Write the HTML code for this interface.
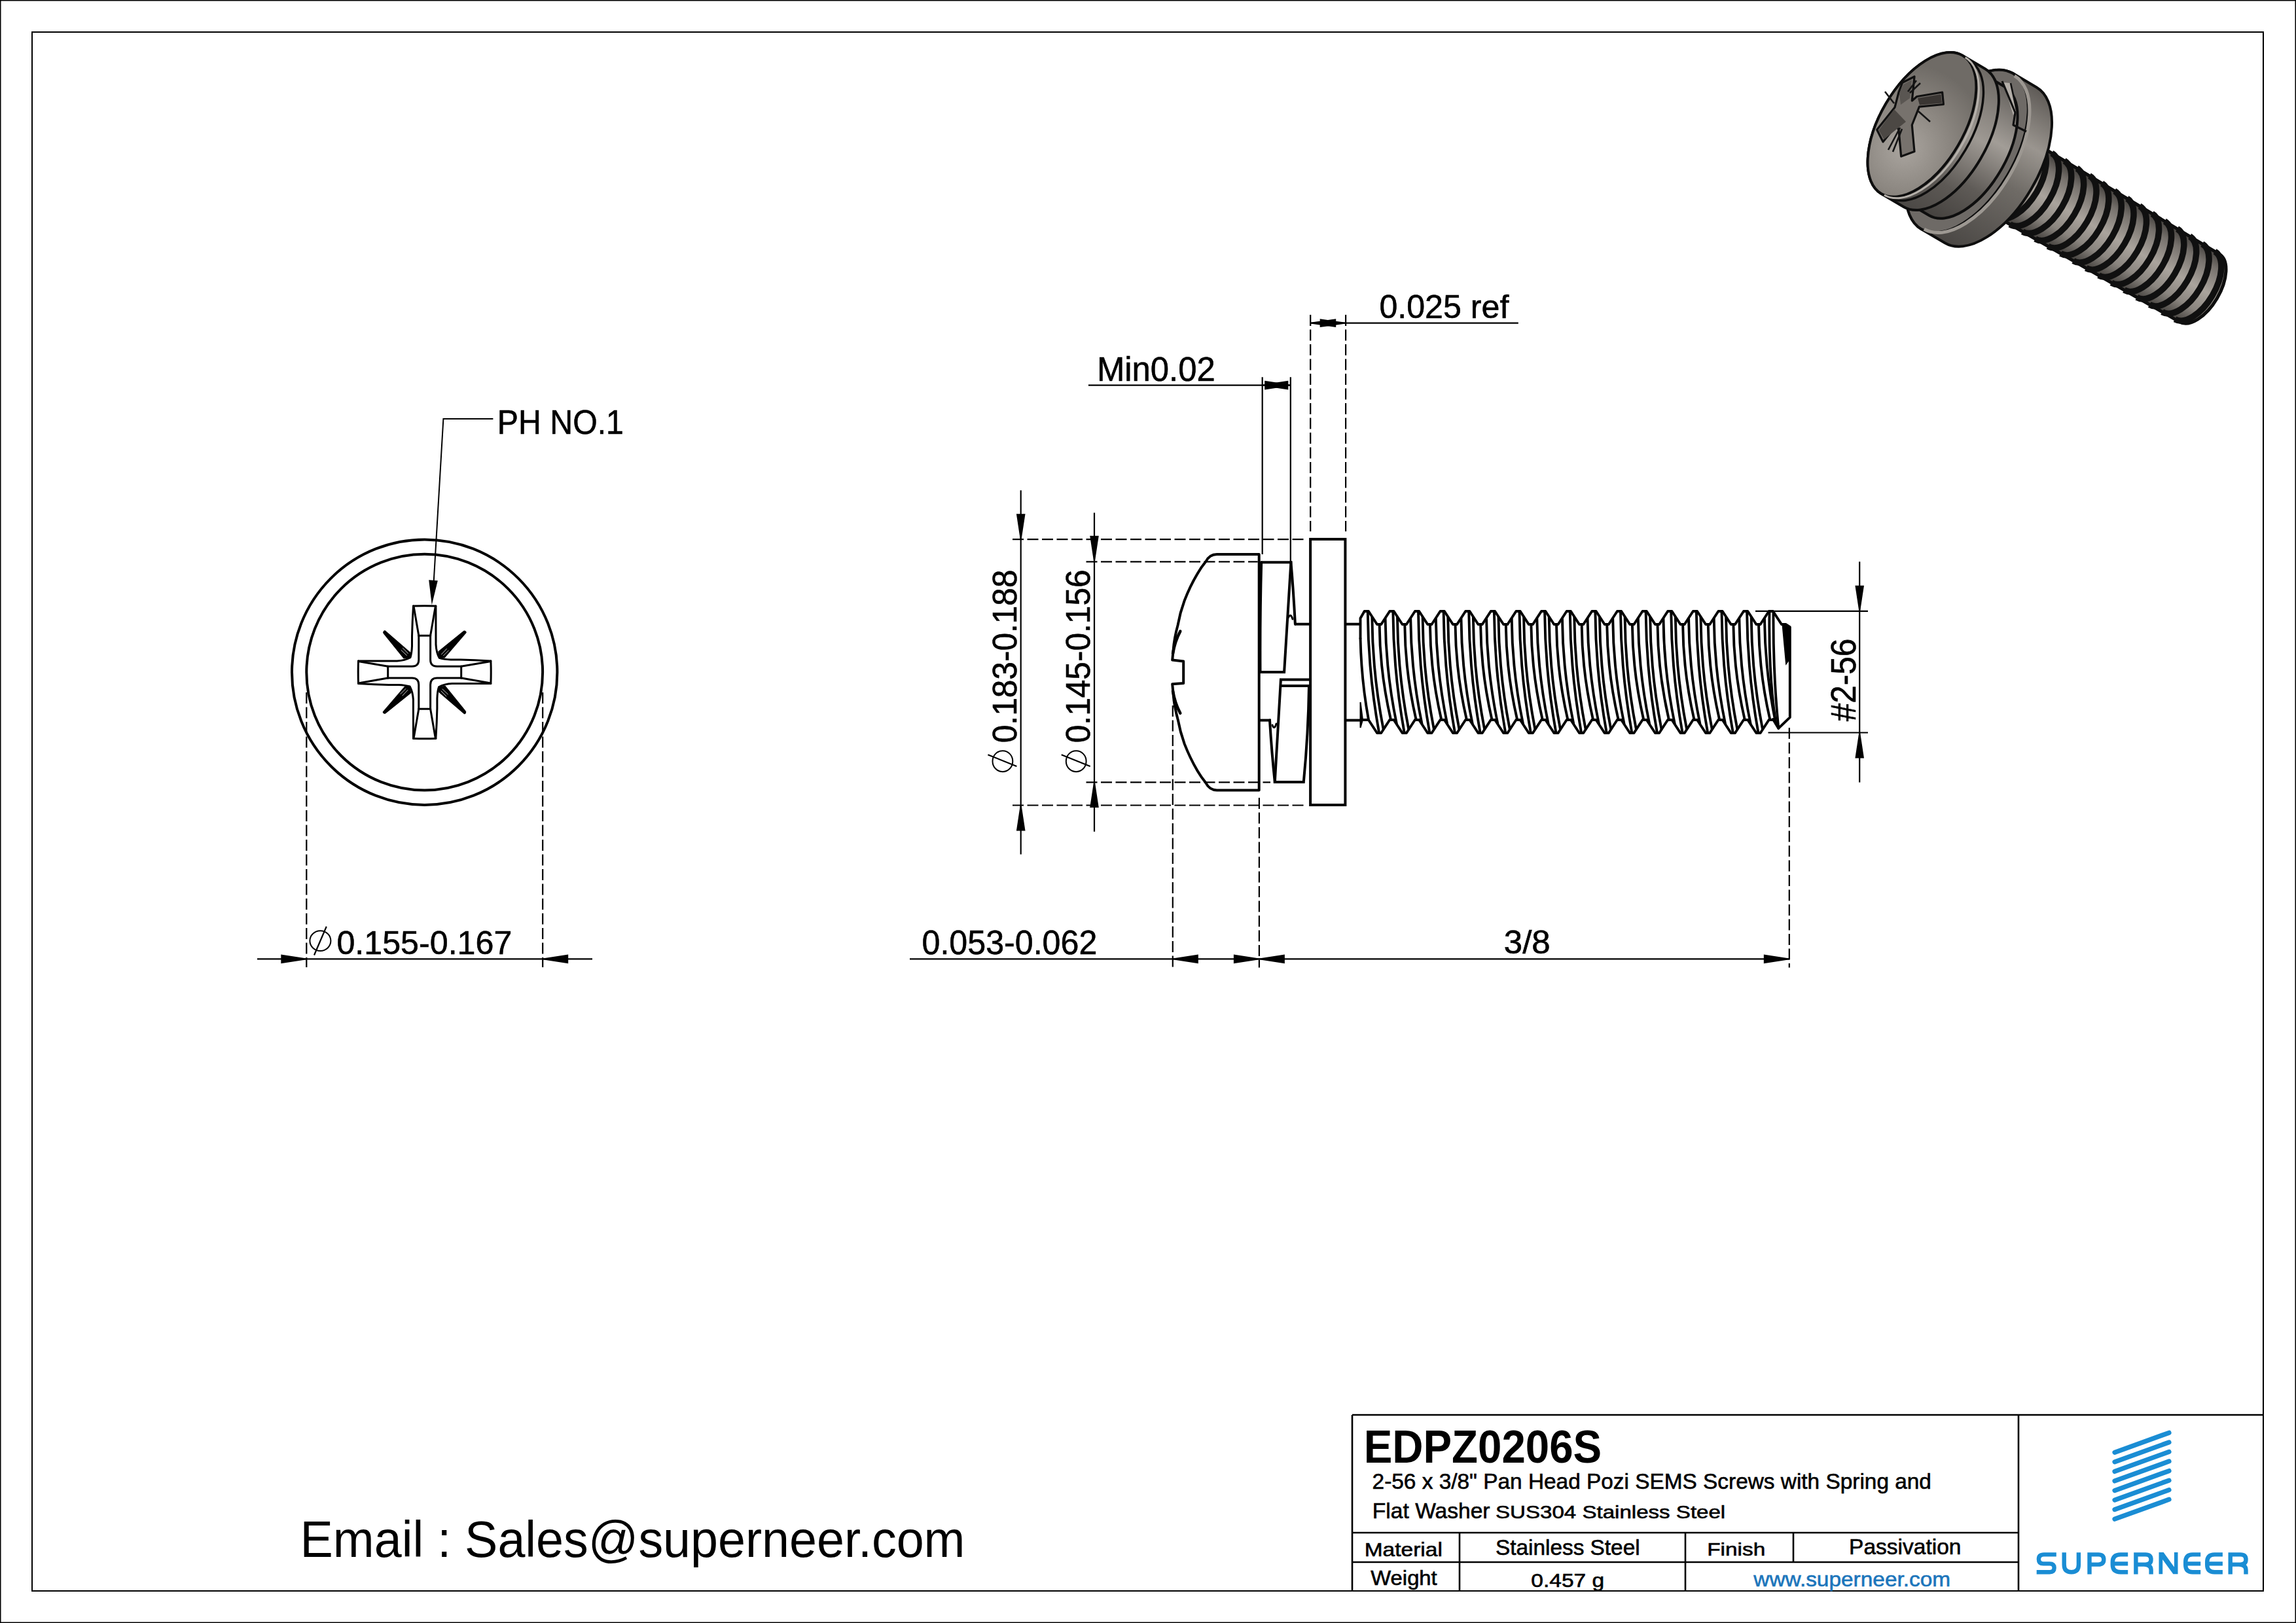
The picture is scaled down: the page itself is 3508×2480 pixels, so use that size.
<!DOCTYPE html>
<html><head><meta charset="utf-8"><title>EDPZ0206S drawing</title>
<style>
html,body{margin:0;padding:0;background:#fff;}
svg{display:block;}
text{font-family:"Liberation Sans", sans-serif;}
</style></head>
<body>
<svg width="3508" height="2480" viewBox="0 0 3508 2480">
<rect x="0" y="0" width="3508" height="2480" fill="#fff"/>
<rect x="0.75" y="0.75" width="3506.5" height="2478.5" fill="none" stroke="#000" stroke-width="1.5"/>
<rect x="49" y="49" width="3409" height="2382" fill="none" stroke="#000" stroke-width="2"/>
<line x1="2066.00" y1="2162.00" x2="3458.00" y2="2162.00" stroke="#000" stroke-width="2.6" />
<line x1="2066.00" y1="2162.00" x2="2066.00" y2="2432.00" stroke="#000" stroke-width="2.6" />
<line x1="2066.00" y1="2342.00" x2="3084.00" y2="2342.00" stroke="#000" stroke-width="2.6" />
<line x1="2066.00" y1="2387.00" x2="3084.00" y2="2387.00" stroke="#000" stroke-width="2.6" />
<line x1="3084.00" y1="2162.00" x2="3084.00" y2="2432.00" stroke="#000" stroke-width="2.6" />
<line x1="2230.00" y1="2342.00" x2="2230.00" y2="2432.00" stroke="#000" stroke-width="2.6" />
<line x1="2575.00" y1="2342.00" x2="2575.00" y2="2432.00" stroke="#000" stroke-width="2.6" />
<line x1="2740.00" y1="2342.00" x2="2740.00" y2="2387.00" stroke="#000" stroke-width="2.6" />
<text x="2083.63" y="2235.40" font-size="70.50" font-weight="bold" fill="#000" textLength="363.53" lengthAdjust="spacingAndGlyphs" xml:space="preserve">EDPZ0206S</text>
<text x="2096.62" y="2275.00" font-size="33.14" font-weight="normal" fill="#000" stroke="#000" stroke-width="0.6" textLength="854.33" lengthAdjust="spacingAndGlyphs" xml:space="preserve">2-56 x 3/8&quot; Pan Head Pozi SEMS Screws with Spring and</text>
<text x="2096.87" y="2320.00" font-size="34.01" font-weight="normal" fill="#000" stroke="#000" stroke-width="0.6" textLength="179.69" lengthAdjust="spacingAndGlyphs" xml:space="preserve">Flat Washer</text>
<text x="2285.00" y="2320.00" font-size="27.62" font-weight="normal" fill="#000" stroke="#000" stroke-width="0.6" textLength="351.22" lengthAdjust="spacingAndGlyphs" xml:space="preserve">SUS304 Stainless Steel</text>
<text x="2084.65" y="2377.60" font-size="29.51" font-weight="normal" fill="#000" stroke="#000" stroke-width="0.6" textLength="119.19" lengthAdjust="spacingAndGlyphs" xml:space="preserve">Material</text>
<text x="2284.99" y="2375.50" font-size="32.51" font-weight="normal" fill="#000" stroke="#000" stroke-width="0.6" textLength="220.65" lengthAdjust="spacingAndGlyphs" xml:space="preserve">Stainless Steel</text>
<text x="2608.27" y="2376.60" font-size="28.49" font-weight="normal" fill="#000" stroke="#000" stroke-width="0.6" textLength="88.90" lengthAdjust="spacingAndGlyphs" xml:space="preserve">Finish</text>
<text x="2825.05" y="2375.40" font-size="33.14" font-weight="normal" fill="#000" stroke="#000" stroke-width="0.6" textLength="171.43" lengthAdjust="spacingAndGlyphs" xml:space="preserve">Passivation</text>
<text x="2094.26" y="2422.00" font-size="30.52" font-weight="normal" fill="#000" stroke="#000" stroke-width="0.6" textLength="101.48" lengthAdjust="spacingAndGlyphs" xml:space="preserve">Weight</text>
<text x="2339.29" y="2424.70" font-size="28.93" font-weight="normal" fill="#000" stroke="#000" stroke-width="0.6" textLength="111.87" lengthAdjust="spacingAndGlyphs" xml:space="preserve">0.457 g</text>
<text x="2679.35" y="2423.50" font-size="31.23" font-weight="normal" fill="#1b75bb" stroke="#1b75bb" stroke-width="0.6" textLength="300.83" lengthAdjust="spacingAndGlyphs" xml:space="preserve">www.superneer.com</text>
<line x1="3231" y1="2219.30" x2="3314" y2="2189.30" stroke="#1a8dd4" stroke-width="7.2" stroke-linecap="round"/>
<line x1="3231" y1="2233.86" x2="3314" y2="2203.86" stroke="#1a8dd4" stroke-width="7.2" stroke-linecap="round"/>
<line x1="3231" y1="2248.42" x2="3314" y2="2218.42" stroke="#1a8dd4" stroke-width="7.2" stroke-linecap="round"/>
<line x1="3231" y1="2262.98" x2="3314" y2="2232.98" stroke="#1a8dd4" stroke-width="7.2" stroke-linecap="round"/>
<line x1="3231" y1="2277.54" x2="3314" y2="2247.54" stroke="#1a8dd4" stroke-width="7.2" stroke-linecap="round"/>
<line x1="3231" y1="2292.10" x2="3314" y2="2262.10" stroke="#1a8dd4" stroke-width="7.2" stroke-linecap="round"/>
<line x1="3231" y1="2306.66" x2="3314" y2="2276.66" stroke="#1a8dd4" stroke-width="7.2" stroke-linecap="round"/>
<line x1="3231" y1="2321.22" x2="3314" y2="2291.22" stroke="#1a8dd4" stroke-width="7.2" stroke-linecap="round"/>
<path d="M3141.8,2375.4 H3123 Q3114.9,2375.4 3114.9,2382.4 Q3114.9,2389.4 3122,2389.4 H3131.6 Q3138.6,2389.4 3138.6,2395.8 Q3138.6,2402.2 3131.6,2402.2 H3111.7" fill="none" stroke="#1a8dd4" stroke-width="6.4" stroke-linejoin="miter" stroke-linecap="butt" />
<path d="M3153.7,2372.2 V2391 Q3153.7,2402.2 3164.8,2402.2 Q3175.9,2402.2 3175.9,2391 V2372.2" fill="none" stroke="#1a8dd4" stroke-width="6.4" stroke-linejoin="miter" stroke-linecap="butt" />
<path d="M3192.5,2405.4 V2375.4 H3206 Q3214.3,2375.4 3214.3,2383 Q3214.3,2390.6 3206,2390.6 H3192.5" fill="none" stroke="#1a8dd4" stroke-width="6.4" stroke-linejoin="miter" stroke-linecap="butt" />
<path d="M3251.2,2375.4 H3240 Q3227.8,2375.4 3227.8,2387 V2391 Q3227.8,2402.2 3240,2402.2 H3251.2 M3227.8,2389.4 H3251.2" fill="none" stroke="#1a8dd4" stroke-width="6.4" stroke-linejoin="miter" stroke-linecap="butt" />
<path d="M3263.4,2405.4 V2375.4 H3278 Q3286.5,2375.4 3286.5,2383 Q3286.5,2390.6 3278,2390.6 H3263.4 M3276,2390.6 Q3286.6,2391 3286.6,2399 V2405.4" fill="none" stroke="#1a8dd4" stroke-width="6.4" stroke-linejoin="miter" stroke-linecap="butt" />
<path d="M3362.2,2375.4 H3350 Q3339.2,2375.4 3339.2,2387 V2391 Q3339.2,2402.2 3350,2402.2 H3362.2 M3339.2,2389.4 H3362.2" fill="none" stroke="#1a8dd4" stroke-width="6.4" stroke-linejoin="miter" stroke-linecap="butt" />
<path d="M3395.9,2375.4 H3383.5 Q3372.2,2375.4 3372.2,2387 V2391 Q3372.2,2402.2 3383.5,2402.2 H3395.9 M3372.2,2389.4 H3395.9" fill="none" stroke="#1a8dd4" stroke-width="6.4" stroke-linejoin="miter" stroke-linecap="butt" />
<path d="M3407.7,2405.4 V2375.4 H3423 Q3431.5,2375.4 3431.5,2383 Q3431.5,2390.6 3423,2390.6 H3407.7 M3421,2390.6 Q3431.5,2391 3431.5,2399 V2405.4" fill="none" stroke="#1a8dd4" stroke-width="6.4" stroke-linejoin="miter" stroke-linecap="butt" />
<polygon points="3298.50,2405.30 3298.50,2372.10 3305.60,2372.10 3321.90,2394.50 3321.90,2372.10 3327.50,2372.10 3327.50,2405.30 3320.40,2405.30 3304.20,2383.00 3304.20,2405.30" fill="#1a8dd4" />
<text x="458.54" y="2378.80" font-size="77.91" font-weight="normal" fill="#000" textLength="1015.92" lengthAdjust="spacingAndGlyphs" xml:space="preserve">Email : Sales@superneer.com</text>
<circle cx="648.7" cy="1027.2" r="202.7" fill="none" stroke="#000" stroke-width="4.0"/>
<circle cx="648.7" cy="1027.2" r="180.4" fill="none" stroke="#000" stroke-width="4.0"/>
<defs><g id="pz"><path d="M-17.2,-101.2 Q0,-101.8 17.2,-101.2" fill="none" stroke="#000" stroke-width="3.0" stroke-linejoin="round" stroke-linecap="round"/><path d="M-17.2,-101.2 L-18.5,-77 L-19.2,-55 L-19.2,-40 Q-19.6,-29 -21.8,-22.5 Q-30,-18 -42,-17.3 L-101.2,-17.2" fill="none" stroke="#000" stroke-width="3.0" stroke-linejoin="round" stroke-linecap="round"/><path d="M-16.5,-100 L-8.9,-56" fill="none" stroke="#000" stroke-width="3.0" stroke-linejoin="round" stroke-linecap="round"/><path d="M-8.9,-56 L8.9,-56" fill="none" stroke="#000" stroke-width="3.0" stroke-linejoin="round" stroke-linecap="round"/><path d="M-8.9,-56 L-8.9,-19 Q-8.9,-8.9 -19,-8.9 L-56,-8.9" fill="none" stroke="#000" stroke-width="3.0" stroke-linejoin="round" stroke-linecap="round"/><path d="M-100,-16.5 L-56,-8.9" fill="none" stroke="#000" stroke-width="3.0" stroke-linejoin="round" stroke-linecap="round"/><path d="M-62.6,-62.2 Q-63.6,-60.6 -62.2,-59.2 L-31.5,-21.2 L-22,-22.6 L-22.2,-30.3 L-60.6,-63.4 Q-61.8,-63.6 -62.6,-62.2 Z" fill="#000" stroke="#000" stroke-width="1.2" stroke-linejoin="round"/><path d="M-36,-34 L-27,-25.5 M-33.5,-37 L-25,-28.5" stroke="#fff" stroke-width="0.8" fill="none"/></g></defs>
<use href="#pz" transform="translate(648.7,1027.2) rotate(0)"/>
<use href="#pz" transform="translate(648.7,1027.2) rotate(90)"/>
<use href="#pz" transform="translate(648.7,1027.2) rotate(180)"/>
<use href="#pz" transform="translate(648.7,1027.2) rotate(270)"/>
<path d="M753.4,640 L677.4,640 L662.8,887" fill="none" stroke="#000" stroke-width="2.0" stroke-linejoin="miter" stroke-linecap="butt" />
<polygon points="655.20,886.30 668.80,887.20 659.80,924.30" fill="#000" />
<text x="759.84" y="663.00" font-size="52.04" font-weight="normal" fill="#000" stroke="#000" stroke-width="0.6" textLength="193.12" lengthAdjust="spacingAndGlyphs" xml:space="preserve">PH NO.1</text>
<line x1="468.30" y1="1058.00" x2="468.30" y2="1478.00" stroke="#000" stroke-width="2.2" stroke-dasharray="17 5.5"/>
<line x1="829.20" y1="1058.00" x2="829.20" y2="1478.00" stroke="#000" stroke-width="2.2" stroke-dasharray="17 5.5"/>
<line x1="393.00" y1="1465.40" x2="905.00" y2="1465.40" stroke="#000" stroke-width="2.2" />
<polygon points="468.30,1466.30 429.30,1472.20 429.30,1458.60 468.30,1464.50" fill="#000" />
<polygon points="829.20,1464.50 868.20,1458.60 868.20,1472.20 829.20,1466.30" fill="#000" />
<ellipse cx="489.4" cy="1437.6" rx="16.0" ry="15.4" fill="none" stroke="#000" stroke-width="2.0"/>
<line x1="480.00" y1="1459.50" x2="498.80" y2="1415.70" stroke="#000" stroke-width="2.2" />
<text x="514.44" y="1457.60" font-size="50.56" font-weight="normal" fill="#000" stroke="#000" stroke-width="0.6" textLength="267.88" lengthAdjust="spacingAndGlyphs" xml:space="preserve">0.155-0.167</text>
<rect x="2002.1" y="823.9" width="53.3" height="406.1" fill="none" stroke="#000" stroke-width="4.0"/>
<path d="M1923.7,847 L1859.2,847 Q1848,847 1842.2,858.3 Q1835,867 1829.5,876.7 Q1818,896 1809.7,917.8 Q1803,936 1799.7,954.7 Q1794,975 1792.7,992.9 L1791.2,1008.5 L1808.2,1010.6 L1808.2,1043.9 L1791.2,1045.3 L1792.7,1061.5 Q1794,1079 1799.7,1099.7 Q1803,1118 1809.7,1136.6 Q1818,1158 1829.5,1177.7 Q1835,1187 1842.2,1196.1 Q1848,1207.4 1859.2,1207.4 L1923.7,1207.4 Z" fill="none" stroke="#000" stroke-width="4.0" stroke-linejoin="round" stroke-linecap="round" />
<path d="M1803.3,964.6 Q1795,980 1792,998.6" fill="none" stroke="#000" stroke-width="4.5" stroke-linejoin="round" stroke-linecap="round" />
<path d="M1803.3,1089.8 Q1795,1074.4 1792,1055.8" fill="none" stroke="#000" stroke-width="4.5" stroke-linejoin="round" stroke-linecap="round" />
<path d="M1927.2,859.3 L1972.4,859.3 L1962.1,1026.9 L1925.5,1026.9" fill="none" stroke="#000" stroke-width="4.0" stroke-linejoin="miter" stroke-linecap="round" />
<path d="M1927.2,859.3 Q1925,940 1925.5,1026.9" fill="none" stroke="#000" stroke-width="4.0" stroke-linejoin="round" stroke-linecap="round" />
<path d="M1972.4,859.3 Q1976,900 1978.9,953.7" fill="none" stroke="#000" stroke-width="4.0" stroke-linejoin="round" stroke-linecap="round" />
<path d="M1968,944 Q1972,936 1975,946" fill="none" stroke="#000" stroke-width="3" stroke-linejoin="round" stroke-linecap="round" />
<path d="M2002,1038.5 L1956.9,1038.5 L1947.8,1195 L1991.8,1195 Q1999,1120 2000,1048" fill="none" stroke="#000" stroke-width="4.0" stroke-linejoin="miter" stroke-linecap="round" />
<line x1="1958.00" y1="1048.10" x2="2002.00" y2="1048.10" stroke="#000" stroke-width="4.0" />
<path d="M1940,1100.6 Q1943,1150 1947.8,1195" fill="none" stroke="#000" stroke-width="4.0" stroke-linejoin="round" stroke-linecap="round" />
<path d="M1944,1108 Q1947,1116 1950,1106" fill="none" stroke="#000" stroke-width="3" stroke-linejoin="round" stroke-linecap="round" />
<line x1="1978.00" y1="953.70" x2="2002.00" y2="953.70" stroke="#000" stroke-width="4.0" />
<line x1="1925.00" y1="1100.60" x2="1942.00" y2="1100.60" stroke="#000" stroke-width="4.0" />
<line x1="2055.50" y1="953.70" x2="2078.50" y2="953.70" stroke="#000" stroke-width="4.0" />
<line x1="2055.50" y1="1100.60" x2="2078.50" y2="1100.60" stroke="#000" stroke-width="4.0" />
<path d="M2078.5,975.5 L2078.5,944.7 L2084.65,934.0 L2090.95,934.0 L2103.96,954.0 L2110.26,954.0 L2123.28,934.0 L2129.58,934.0 L2142.59,954.0 L2148.89,954.0 L2161.90,934.0 L2168.20,934.0 L2181.21,954.0 L2187.51,954.0 L2200.53,934.0 L2206.83,934.0 L2219.84,954.0 L2226.14,954.0 L2239.15,934.0 L2245.45,934.0 L2258.46,954.0 L2264.76,954.0 L2277.78,934.0 L2284.08,934.0 L2297.09,954.0 L2303.39,954.0 L2316.40,934.0 L2322.70,934.0 L2335.71,954.0 L2342.01,954.0 L2355.03,934.0 L2361.33,934.0 L2374.34,954.0 L2380.64,954.0 L2393.65,934.0 L2399.95,934.0 L2412.96,954.0 L2419.26,954.0 L2432.28,934.0 L2438.58,934.0 L2451.59,954.0 L2457.89,954.0 L2470.90,934.0 L2477.20,934.0 L2490.21,954.0 L2496.51,954.0 L2509.53,934.0 L2515.83,934.0 L2528.84,954.0 L2535.14,954.0 L2548.15,934.0 L2554.45,934.0 L2567.46,954.0 L2573.76,954.0 L2586.78,934.0 L2593.08,934.0 L2606.09,954.0 L2612.39,954.0 L2625.40,934.0 L2631.70,934.0 L2644.71,954.0 L2651.01,954.0 L2664.03,934.0 L2670.33,934.0 L2683.34,954.0 L2689.64,954.0 L2702.65,934.0 L2708.95,934.0 L2721.96,954.0 L2728.26,954.0 L2734.8,958.2 L2734.8,1096.2 L2717.3,1112.9 L2708.9,1099" fill="none" stroke="#000" stroke-width="3.9" stroke-linejoin="round" stroke-linecap="round" />
<path d="M2078.5,1073 L2082,1100 L2078.5,1112 Z" fill="#000" stroke="#000" stroke-width="2"/>
<path d="M2083,1100.0 L2090.95,1100.0 L2103.96,1120.0 L2110.26,1120.0 L2123.28,1100.0 L2129.57,1100.0 L2142.59,1120.0 L2148.89,1120.0 L2161.90,1100.0 L2168.20,1100.0 L2181.21,1120.0 L2187.51,1120.0 L2200.53,1100.0 L2206.82,1100.0 L2219.84,1120.0 L2226.14,1120.0 L2239.15,1100.0 L2245.45,1100.0 L2258.46,1120.0 L2264.76,1120.0 L2277.78,1100.0 L2284.07,1100.0 L2297.09,1120.0 L2303.39,1120.0 L2316.40,1100.0 L2322.70,1100.0 L2335.71,1120.0 L2342.01,1120.0 L2355.03,1100.0 L2361.32,1100.0 L2374.34,1120.0 L2380.64,1120.0 L2393.65,1100.0 L2399.95,1100.0 L2412.96,1120.0 L2419.26,1120.0 L2432.28,1100.0 L2438.57,1100.0 L2451.59,1120.0 L2457.89,1120.0 L2470.90,1100.0 L2477.20,1100.0 L2490.21,1120.0 L2496.51,1120.0 L2509.53,1100.0 L2515.82,1100.0 L2528.84,1120.0 L2535.14,1120.0 L2548.15,1100.0 L2554.45,1100.0 L2567.46,1120.0 L2573.76,1120.0 L2586.78,1100.0 L2593.07,1100.0 L2606.09,1120.0 L2612.39,1120.0 L2625.40,1100.0 L2631.70,1100.0 L2644.71,1120.0 L2651.01,1120.0 L2664.03,1100.0 L2670.32,1100.0 L2683.34,1120.0 L2689.64,1120.0 L2702.65,1100.0 L2708.95,1100.0" fill="none" stroke="#000" stroke-width="3.9" stroke-linejoin="round" stroke-linecap="round" />
<path d="M2089.75,935.00 Q2090.35,1027.00 2106.95,1119.00" fill="none" stroke="#000" stroke-width="3.9" stroke-linejoin="round" stroke-linecap="round" />
<path d="M2096.35,943.30 Q2096.95,1028.62 2113.55,1113.95" fill="none" stroke="#000" stroke-width="3.9" stroke-linejoin="round" stroke-linecap="round" />
<path d="M2107.65,955.00 Q2108.25,1027.00 2124.85,1099.00" fill="none" stroke="#000" stroke-width="3.9" stroke-linejoin="round" stroke-linecap="round" />
<path d="M2116.58,945.30 Q2117.18,1025.38 2133.78,1105.46" fill="none" stroke="#000" stroke-width="3.9" stroke-linejoin="round" stroke-linecap="round" />
<path d="M2128.38,935.00 Q2128.97,1027.00 2145.57,1119.00" fill="none" stroke="#000" stroke-width="3.9" stroke-linejoin="round" stroke-linecap="round" />
<path d="M2134.98,943.30 Q2135.58,1028.62 2152.18,1113.95" fill="none" stroke="#000" stroke-width="3.9" stroke-linejoin="round" stroke-linecap="round" />
<path d="M2146.28,955.00 Q2146.88,1027.00 2163.47,1099.00" fill="none" stroke="#000" stroke-width="3.9" stroke-linejoin="round" stroke-linecap="round" />
<path d="M2155.20,945.30 Q2155.80,1025.38 2172.40,1105.46" fill="none" stroke="#000" stroke-width="3.9" stroke-linejoin="round" stroke-linecap="round" />
<path d="M2167.00,935.00 Q2167.60,1027.00 2184.20,1119.00" fill="none" stroke="#000" stroke-width="3.9" stroke-linejoin="round" stroke-linecap="round" />
<path d="M2173.60,943.30 Q2174.20,1028.62 2190.80,1113.95" fill="none" stroke="#000" stroke-width="3.9" stroke-linejoin="round" stroke-linecap="round" />
<path d="M2184.90,955.00 Q2185.50,1027.00 2202.10,1099.00" fill="none" stroke="#000" stroke-width="3.9" stroke-linejoin="round" stroke-linecap="round" />
<path d="M2193.83,945.30 Q2194.43,1025.38 2211.03,1105.46" fill="none" stroke="#000" stroke-width="3.9" stroke-linejoin="round" stroke-linecap="round" />
<path d="M2205.62,935.00 Q2206.22,1027.00 2222.82,1119.00" fill="none" stroke="#000" stroke-width="3.9" stroke-linejoin="round" stroke-linecap="round" />
<path d="M2212.23,943.30 Q2212.83,1028.62 2229.43,1113.95" fill="none" stroke="#000" stroke-width="3.9" stroke-linejoin="round" stroke-linecap="round" />
<path d="M2223.53,955.00 Q2224.12,1027.00 2240.72,1099.00" fill="none" stroke="#000" stroke-width="3.9" stroke-linejoin="round" stroke-linecap="round" />
<path d="M2232.45,945.30 Q2233.05,1025.38 2249.65,1105.46" fill="none" stroke="#000" stroke-width="3.9" stroke-linejoin="round" stroke-linecap="round" />
<path d="M2244.25,935.00 Q2244.85,1027.00 2261.45,1119.00" fill="none" stroke="#000" stroke-width="3.9" stroke-linejoin="round" stroke-linecap="round" />
<path d="M2250.85,943.30 Q2251.45,1028.62 2268.05,1113.95" fill="none" stroke="#000" stroke-width="3.9" stroke-linejoin="round" stroke-linecap="round" />
<path d="M2262.15,955.00 Q2262.75,1027.00 2279.35,1099.00" fill="none" stroke="#000" stroke-width="3.9" stroke-linejoin="round" stroke-linecap="round" />
<path d="M2271.08,945.30 Q2271.68,1025.38 2288.28,1105.46" fill="none" stroke="#000" stroke-width="3.9" stroke-linejoin="round" stroke-linecap="round" />
<path d="M2282.88,935.00 Q2283.47,1027.00 2300.07,1119.00" fill="none" stroke="#000" stroke-width="3.9" stroke-linejoin="round" stroke-linecap="round" />
<path d="M2289.48,943.30 Q2290.08,1028.62 2306.68,1113.95" fill="none" stroke="#000" stroke-width="3.9" stroke-linejoin="round" stroke-linecap="round" />
<path d="M2300.78,955.00 Q2301.38,1027.00 2317.97,1099.00" fill="none" stroke="#000" stroke-width="3.9" stroke-linejoin="round" stroke-linecap="round" />
<path d="M2309.70,945.30 Q2310.30,1025.38 2326.90,1105.46" fill="none" stroke="#000" stroke-width="3.9" stroke-linejoin="round" stroke-linecap="round" />
<path d="M2321.50,935.00 Q2322.10,1027.00 2338.70,1119.00" fill="none" stroke="#000" stroke-width="3.9" stroke-linejoin="round" stroke-linecap="round" />
<path d="M2328.10,943.30 Q2328.70,1028.62 2345.30,1113.95" fill="none" stroke="#000" stroke-width="3.9" stroke-linejoin="round" stroke-linecap="round" />
<path d="M2339.40,955.00 Q2340.00,1027.00 2356.60,1099.00" fill="none" stroke="#000" stroke-width="3.9" stroke-linejoin="round" stroke-linecap="round" />
<path d="M2348.33,945.30 Q2348.93,1025.38 2365.53,1105.46" fill="none" stroke="#000" stroke-width="3.9" stroke-linejoin="round" stroke-linecap="round" />
<path d="M2360.12,935.00 Q2360.72,1027.00 2377.32,1119.00" fill="none" stroke="#000" stroke-width="3.9" stroke-linejoin="round" stroke-linecap="round" />
<path d="M2366.73,943.30 Q2367.33,1028.62 2383.93,1113.95" fill="none" stroke="#000" stroke-width="3.9" stroke-linejoin="round" stroke-linecap="round" />
<path d="M2378.03,955.00 Q2378.62,1027.00 2395.22,1099.00" fill="none" stroke="#000" stroke-width="3.9" stroke-linejoin="round" stroke-linecap="round" />
<path d="M2386.95,945.30 Q2387.55,1025.38 2404.15,1105.46" fill="none" stroke="#000" stroke-width="3.9" stroke-linejoin="round" stroke-linecap="round" />
<path d="M2398.75,935.00 Q2399.35,1027.00 2415.95,1119.00" fill="none" stroke="#000" stroke-width="3.9" stroke-linejoin="round" stroke-linecap="round" />
<path d="M2405.35,943.30 Q2405.95,1028.62 2422.55,1113.95" fill="none" stroke="#000" stroke-width="3.9" stroke-linejoin="round" stroke-linecap="round" />
<path d="M2416.65,955.00 Q2417.25,1027.00 2433.85,1099.00" fill="none" stroke="#000" stroke-width="3.9" stroke-linejoin="round" stroke-linecap="round" />
<path d="M2425.58,945.30 Q2426.18,1025.38 2442.78,1105.46" fill="none" stroke="#000" stroke-width="3.9" stroke-linejoin="round" stroke-linecap="round" />
<path d="M2437.38,935.00 Q2437.97,1027.00 2454.57,1119.00" fill="none" stroke="#000" stroke-width="3.9" stroke-linejoin="round" stroke-linecap="round" />
<path d="M2443.98,943.30 Q2444.58,1028.62 2461.18,1113.95" fill="none" stroke="#000" stroke-width="3.9" stroke-linejoin="round" stroke-linecap="round" />
<path d="M2455.28,955.00 Q2455.88,1027.00 2472.47,1099.00" fill="none" stroke="#000" stroke-width="3.9" stroke-linejoin="round" stroke-linecap="round" />
<path d="M2464.20,945.30 Q2464.80,1025.38 2481.40,1105.46" fill="none" stroke="#000" stroke-width="3.9" stroke-linejoin="round" stroke-linecap="round" />
<path d="M2476.00,935.00 Q2476.60,1027.00 2493.20,1119.00" fill="none" stroke="#000" stroke-width="3.9" stroke-linejoin="round" stroke-linecap="round" />
<path d="M2482.60,943.30 Q2483.20,1028.62 2499.80,1113.95" fill="none" stroke="#000" stroke-width="3.9" stroke-linejoin="round" stroke-linecap="round" />
<path d="M2493.90,955.00 Q2494.50,1027.00 2511.10,1099.00" fill="none" stroke="#000" stroke-width="3.9" stroke-linejoin="round" stroke-linecap="round" />
<path d="M2502.83,945.30 Q2503.43,1025.38 2520.03,1105.46" fill="none" stroke="#000" stroke-width="3.9" stroke-linejoin="round" stroke-linecap="round" />
<path d="M2514.62,935.00 Q2515.22,1027.00 2531.82,1119.00" fill="none" stroke="#000" stroke-width="3.9" stroke-linejoin="round" stroke-linecap="round" />
<path d="M2521.23,943.30 Q2521.83,1028.62 2538.43,1113.95" fill="none" stroke="#000" stroke-width="3.9" stroke-linejoin="round" stroke-linecap="round" />
<path d="M2532.53,955.00 Q2533.12,1027.00 2549.72,1099.00" fill="none" stroke="#000" stroke-width="3.9" stroke-linejoin="round" stroke-linecap="round" />
<path d="M2541.45,945.30 Q2542.05,1025.38 2558.65,1105.46" fill="none" stroke="#000" stroke-width="3.9" stroke-linejoin="round" stroke-linecap="round" />
<path d="M2553.25,935.00 Q2553.85,1027.00 2570.45,1119.00" fill="none" stroke="#000" stroke-width="3.9" stroke-linejoin="round" stroke-linecap="round" />
<path d="M2559.85,943.30 Q2560.45,1028.62 2577.05,1113.95" fill="none" stroke="#000" stroke-width="3.9" stroke-linejoin="round" stroke-linecap="round" />
<path d="M2571.15,955.00 Q2571.75,1027.00 2588.35,1099.00" fill="none" stroke="#000" stroke-width="3.9" stroke-linejoin="round" stroke-linecap="round" />
<path d="M2580.08,945.30 Q2580.68,1025.38 2597.28,1105.46" fill="none" stroke="#000" stroke-width="3.9" stroke-linejoin="round" stroke-linecap="round" />
<path d="M2591.88,935.00 Q2592.47,1027.00 2609.07,1119.00" fill="none" stroke="#000" stroke-width="3.9" stroke-linejoin="round" stroke-linecap="round" />
<path d="M2598.48,943.30 Q2599.08,1028.62 2615.68,1113.95" fill="none" stroke="#000" stroke-width="3.9" stroke-linejoin="round" stroke-linecap="round" />
<path d="M2609.78,955.00 Q2610.38,1027.00 2626.97,1099.00" fill="none" stroke="#000" stroke-width="3.9" stroke-linejoin="round" stroke-linecap="round" />
<path d="M2618.70,945.30 Q2619.30,1025.38 2635.90,1105.46" fill="none" stroke="#000" stroke-width="3.9" stroke-linejoin="round" stroke-linecap="round" />
<path d="M2630.50,935.00 Q2631.10,1027.00 2647.70,1119.00" fill="none" stroke="#000" stroke-width="3.9" stroke-linejoin="round" stroke-linecap="round" />
<path d="M2637.10,943.30 Q2637.70,1028.62 2654.30,1113.95" fill="none" stroke="#000" stroke-width="3.9" stroke-linejoin="round" stroke-linecap="round" />
<path d="M2648.40,955.00 Q2649.00,1027.00 2665.60,1099.00" fill="none" stroke="#000" stroke-width="3.9" stroke-linejoin="round" stroke-linecap="round" />
<path d="M2657.33,945.30 Q2657.93,1025.38 2674.53,1105.46" fill="none" stroke="#000" stroke-width="3.9" stroke-linejoin="round" stroke-linecap="round" />
<path d="M2669.12,935.00 Q2669.72,1027.00 2686.32,1119.00" fill="none" stroke="#000" stroke-width="3.9" stroke-linejoin="round" stroke-linecap="round" />
<path d="M2675.73,943.30 Q2676.33,1028.62 2692.93,1113.95" fill="none" stroke="#000" stroke-width="3.9" stroke-linejoin="round" stroke-linecap="round" />
<path d="M2687.03,955.00 Q2687.62,1027.00 2704.22,1099.00" fill="none" stroke="#000" stroke-width="3.9" stroke-linejoin="round" stroke-linecap="round" />
<path d="M2695.95,945.30 Q2696.55,1025.38 2713.15,1105.46" fill="none" stroke="#000" stroke-width="3.9" stroke-linejoin="round" stroke-linecap="round" />
<path d="M2078.5,975.5 Q2080,1040 2090.8,1098.7" fill="none" stroke="#000" stroke-width="3.9" stroke-linejoin="round" stroke-linecap="round" />
<path d="M2703.5,935.5 Q2702,1030 2713,1104" fill="none" stroke="#000" stroke-width="3.9" stroke-linejoin="round" stroke-linecap="round" />
<path d="M2709.5,935.5 Q2709,1030 2717.3,1112.9" fill="none" stroke="#000" stroke-width="3.9" stroke-linejoin="round" stroke-linecap="round" />
<path d="M2722.5,954 L2734.8,958.2 L2734.8,1008 L2728.3,1016.8 Z" fill="#000"/>
<line x1="1559.70" y1="749.30" x2="1559.70" y2="1305.40" stroke="#000" stroke-width="2.2" />
<polygon points="1558.80,824.20 1552.90,785.20 1566.50,785.20 1560.60,824.20" fill="#000" />
<polygon points="1560.60,1230.50 1566.50,1269.50 1552.90,1269.50 1558.80,1230.50" fill="#000" />
<line x1="1547.00" y1="824.20" x2="1995.00" y2="824.20" stroke="#000" stroke-width="2.2" stroke-dasharray="17 5.5"/>
<line x1="1547.00" y1="1230.50" x2="1995.00" y2="1230.50" stroke="#000" stroke-width="2.2" stroke-dasharray="17 5.5"/>
<line x1="1672.00" y1="783.60" x2="1672.00" y2="1270.70" stroke="#000" stroke-width="2.2" />
<polygon points="1671.10,857.80 1665.20,818.80 1678.80,818.80 1672.90,857.80" fill="#000" />
<polygon points="1672.90,1195.00 1678.80,1234.00 1665.20,1234.00 1671.10,1195.00" fill="#000" />
<line x1="1659.50" y1="858.30" x2="1921.70" y2="858.30" stroke="#000" stroke-width="2.2" stroke-dasharray="17 5.5"/>
<line x1="1659.50" y1="1195.30" x2="1941.00" y2="1195.30" stroke="#000" stroke-width="2.2" stroke-dasharray="17 5.5"/>
<ellipse cx="1531.9" cy="1163.2" rx="15.4" ry="16.0" fill="none" stroke="#000" stroke-width="2.0"/>
<ellipse cx="1644.2" cy="1163.2" rx="15.4" ry="16.0" fill="none" stroke="#000" stroke-width="2.0"/>
<line x1="1509.40" y1="1153.20" x2="1553.40" y2="1171.00" stroke="#000" stroke-width="2.2" />
<line x1="1621.70" y1="1153.20" x2="1665.70" y2="1171.00" stroke="#000" stroke-width="2.2" />
<text transform="rotate(-90)" x="-1135.24" y="1553.40" font-size="50.99" fill="#000" stroke="#000" stroke-width="0.6" textLength="264.79" lengthAdjust="spacingAndGlyphs">0.183-0.188</text>
<text transform="rotate(-90)" x="-1135.24" y="1665.40" font-size="50.99" fill="#000" stroke="#000" stroke-width="0.6" textLength="264.82" lengthAdjust="spacingAndGlyphs">0.145-0.156</text>
<line x1="1662.90" y1="588.70" x2="1972.00" y2="588.70" stroke="#000" stroke-width="2.2" />
<line x1="1928.70" y1="576.20" x2="1928.70" y2="847.00" stroke="#000" stroke-width="2.2" />
<line x1="1971.80" y1="576.20" x2="1971.80" y2="859.00" stroke="#000" stroke-width="2.2" />
<polygon points="1971.80,589.60 1932.20,595.60 1932.20,581.80 1971.80,587.80" fill="#000" />
<polygon points="1928.70,587.80 1968.30,581.80 1968.30,595.60 1928.70,589.60" fill="#000" />
<text x="1675.93" y="582.40" font-size="52.33" font-weight="normal" fill="#000" stroke="#000" stroke-width="0.6" textLength="180.83" lengthAdjust="spacingAndGlyphs" xml:space="preserve">Min0.02</text>
<line x1="2002.00" y1="493.70" x2="2319.80" y2="493.70" stroke="#000" stroke-width="2.2" />
<line x1="2002.20" y1="481.10" x2="2002.20" y2="812.00" stroke="#000" stroke-width="2.2" stroke-dasharray="17 5.5"/>
<line x1="2056.10" y1="481.10" x2="2056.10" y2="812.00" stroke="#000" stroke-width="2.2" stroke-dasharray="17 5.5"/>
<polygon points="2055.90,494.60 2016.70,500.10 2016.70,487.30 2055.90,492.80" fill="#000" />
<polygon points="2002.00,492.80 2041.20,487.30 2041.20,500.10 2002.00,494.60" fill="#000" />
<text x="2107.44" y="485.90" font-size="50.84" font-weight="normal" fill="#000" stroke="#000" stroke-width="0.6" textLength="197.88" lengthAdjust="spacingAndGlyphs" xml:space="preserve">0.025 ref</text>
<line x1="1390.00" y1="1465.40" x2="2733.80" y2="1465.40" stroke="#000" stroke-width="2.2" />
<line x1="1791.80" y1="1078.00" x2="1791.80" y2="1478.60" stroke="#000" stroke-width="2.2" stroke-dasharray="17 5.5"/>
<line x1="1923.90" y1="1219.00" x2="1923.90" y2="1478.60" stroke="#000" stroke-width="2.2" stroke-dasharray="17 5.5"/>
<line x1="2733.80" y1="1112.00" x2="2733.80" y2="1478.60" stroke="#000" stroke-width="2.2" stroke-dasharray="17 5.5"/>
<polygon points="1791.80,1464.50 1830.80,1458.60 1830.80,1472.20 1791.80,1466.30" fill="#000" />
<polygon points="1923.90,1466.30 1884.90,1472.20 1884.90,1458.60 1923.90,1464.50" fill="#000" />
<polygon points="1923.90,1464.50 1962.90,1458.60 1962.90,1472.20 1923.90,1466.30" fill="#000" />
<polygon points="2733.80,1466.30 2694.80,1472.20 2694.80,1458.60 2733.80,1464.50" fill="#000" />
<text x="1408.54" y="1457.80" font-size="51.41" font-weight="normal" fill="#000" stroke="#000" stroke-width="0.6" textLength="267.78" lengthAdjust="spacingAndGlyphs" xml:space="preserve">0.053-0.062</text>
<text x="2297.86" y="1457.20" font-size="49.98" font-weight="normal" fill="#000" stroke="#000" stroke-width="0.6" textLength="70.86" lengthAdjust="spacingAndGlyphs" xml:space="preserve">3/8</text>
<line x1="2682.00" y1="933.80" x2="2854.00" y2="933.80" stroke="#000" stroke-width="2.2" />
<line x1="2701.50" y1="1119.50" x2="2854.00" y2="1119.50" stroke="#000" stroke-width="2.2" />
<line x1="2841.20" y1="858.20" x2="2841.20" y2="1195.40" stroke="#000" stroke-width="2.2" />
<polygon points="2840.30,933.80 2834.40,894.80 2848.00,894.80 2842.10,933.80" fill="#000" />
<polygon points="2842.10,1119.50 2848.00,1158.50 2834.40,1158.50 2840.30,1119.50" fill="#000" />
<text transform="rotate(-90)" x="-1102.22" y="2835.40" font-size="53.28" fill="#000" stroke="#000" stroke-width="0.6" textLength="126.59" lengthAdjust="spacingAndGlyphs">#2-56</text>
<defs>
<linearGradient id="gShank" gradientUnits="userSpaceOnUse" x1="0" y1="-64" x2="0" y2="64">
 <stop offset="0" stop-color="#3a3734"/><stop offset="0.2" stop-color="#77726d"/><stop offset="0.5" stop-color="#aaa49d"/><stop offset="0.75" stop-color="#8a857f"/><stop offset="1" stop-color="#3a3734"/></linearGradient>
<linearGradient id="gWash" gradientUnits="userSpaceOnUse" x1="0" y1="-138" x2="0" y2="138">
 <stop offset="0" stop-color="#5e5a56"/><stop offset="0.3" stop-color="#9a958f"/><stop offset="0.55" stop-color="#6f6b66"/><stop offset="1" stop-color="#4a4744"/></linearGradient>
<linearGradient id="gSpring" gradientUnits="userSpaceOnUse" x1="0" y1="-114" x2="0" y2="114">
 <stop offset="0" stop-color="#66625e"/><stop offset="0.35" stop-color="#a29d97"/><stop offset="0.7" stop-color="#5f5b57"/><stop offset="1" stop-color="#45423f"/></linearGradient>
<linearGradient id="gHead" gradientUnits="userSpaceOnUse" x1="0" y1="-122" x2="0" y2="122">
 <stop offset="0" stop-color="#6e6a65"/><stop offset="0.4" stop-color="#9e9993"/><stop offset="0.75" stop-color="#5d5955"/><stop offset="1" stop-color="#4b4845"/></linearGradient>
<radialGradient id="gFace" gradientUnits="userSpaceOnUse" cx="-5" cy="45" r="130">
 <stop offset="0" stop-color="#aaa59f"/><stop offset="0.55" stop-color="#8a857f"/><stop offset="1" stop-color="#6f6b66"/></radialGradient>
</defs>
<g transform="translate(2936.5,190.4) rotate(30.5)"><path d="M110,-64 L492.0,-60 A31.20,60 0 0 1 492.0,60 L110,64 A33.28,64 0 0 1 110,-64 Z" fill="url(#gShank)" stroke="#0e0e0e" stroke-width="5.0" stroke-linejoin="round"/><path d="M126.0,-63.83 A33.19,63.832460732984295 0 0 1 126.0,63.83" fill="none" stroke="#101010" stroke-width="9.5"/><path d="M148.375,-63.60 A33.07,63.59816753926702 0 0 1 148.375,63.60" fill="none" stroke="#101010" stroke-width="9.5"/><path d="M170.75,-63.36 A32.95,63.36387434554974 0 0 1 170.75,63.36" fill="none" stroke="#101010" stroke-width="9.5"/><path d="M193.125,-63.13 A32.83,63.12958115183246 0 0 1 193.125,63.13" fill="none" stroke="#101010" stroke-width="9.5"/><path d="M215.5,-62.90 A32.71,62.89528795811518 0 0 1 215.5,62.90" fill="none" stroke="#101010" stroke-width="9.5"/><path d="M237.875,-62.66 A32.58,62.660994764397905 0 0 1 237.875,62.66" fill="none" stroke="#101010" stroke-width="9.5"/><path d="M260.25,-62.43 A32.46,62.42670157068063 0 0 1 260.25,62.43" fill="none" stroke="#101010" stroke-width="9.5"/><path d="M282.625,-62.19 A32.34,62.19240837696335 0 0 1 282.625,62.19" fill="none" stroke="#101010" stroke-width="9.5"/><path d="M305.0,-61.96 A32.22,61.95811518324607 0 0 1 305.0,61.96" fill="none" stroke="#101010" stroke-width="9.5"/><path d="M327.375,-61.72 A32.10,61.723821989528794 0 0 1 327.375,61.72" fill="none" stroke="#101010" stroke-width="9.5"/><path d="M349.75,-61.49 A31.97,61.489528795811516 0 0 1 349.75,61.49" fill="none" stroke="#101010" stroke-width="9.5"/><path d="M372.125,-61.26 A31.85,61.25523560209424 0 0 1 372.125,61.26" fill="none" stroke="#101010" stroke-width="9.5"/><path d="M394.5,-61.02 A31.73,61.02094240837696 0 0 1 394.5,61.02" fill="none" stroke="#101010" stroke-width="9.5"/><path d="M416.875,-60.79 A31.61,60.78664921465968 0 0 1 416.875,60.79" fill="none" stroke="#101010" stroke-width="9.5"/><path d="M439.25,-60.55 A31.49,60.55235602094241 0 0 1 439.25,60.55" fill="none" stroke="#101010" stroke-width="9.5"/><path d="M461.625,-60.32 A31.37,60.318062827225134 0 0 1 461.625,60.32" fill="none" stroke="#101010" stroke-width="9.5"/><path d="M484.0,-60.08 A31.24,60.083769633507856 0 0 1 484.0,60.08" fill="none" stroke="#101010" stroke-width="9.5"/><path d="M80,-138 L122,-138 A71.76,138 0 0 1 122,138 L80,138 A71.76,138 0 0 1 80,-138 Z" fill="url(#gWash)" stroke="#0e0e0e" stroke-width="4.0" stroke-linejoin="round"/><ellipse cx="80" cy="0" rx="71.76" ry="138" fill="#6e6a66" stroke="#0e0e0e" stroke-width="4.0"/><path d="M84,-136.00 A70.72,136 0 0 1 84,136.00" fill="none" stroke="#9d9892" stroke-width="5"/><path d="M40,-114 L80,-114 A59.28,114 0 0 1 80,114 L40,114 A59.28,114 0 0 1 40,-114 Z" fill="url(#gSpring)" stroke="#0e0e0e" stroke-width="4.0" stroke-linejoin="round"/><ellipse cx="40" cy="0" rx="59.28" ry="114" fill="#75716c" stroke="#0e0e0e" stroke-width="4.0"/><path d="M0,-122.5 L40,-122.5 A63.70,122.5 0 0 1 40,122.5 L0,122.5 A63.70,122.5 0 0 1 0,-122.5 Z" fill="url(#gHead)" stroke="#0e0e0e" stroke-width="4.0" stroke-linejoin="round"/><ellipse cx="0" cy="0" rx="63.70" ry="122.5" fill="url(#gFace)" stroke="#0e0e0e" stroke-width="4.0"/><path d="M14,-121.00 A62.92,121 0 0 1 14,121.00" fill="none" stroke="#0e0e0e" stroke-width="3.5"/><path d="M5,-122.00 A63.44,122 0 0 1 5,122.00" fill="none" stroke="#b5b0aa" stroke-width="3.0"/></g>
<polygon points="3061,126 3072,127 3080,170 3076,176" fill="#b3aea8"/>
<path d="M3059,124 L3079,172 L3076,191 L3096,201" fill="none" stroke="#111" stroke-width="3.2" stroke-linejoin="round"/>
<path d="M3072,127 L3081,168" fill="none" stroke="#111" stroke-width="2.6"/>
<polygon points="2906.6,126.2 2925.0,117.0 2921.3,154.0 2928.7,147.5 2967.6,141.0 2969.4,159.5 2932.4,163.2 2921.3,191.0 2925.0,231.6 2904.7,239.0 2901.0,198.3 2897.0,192.0 2877.0,216.8 2867.7,198.3 2895.0,164.0 2901.0,141.0" fill="#77726d" stroke="#111" stroke-width="3.2" stroke-linejoin="round"/>
<polygon points="2930,150 2965.5,144 2967,157.5 2933,160.5" fill="#3a3633"/>
<polygon points="2894,167 2870.5,199 2878.5,213 2912,186" fill="#4c4844"/>
<polygon points="2908,129 2921,122 2918,150 2904,160 2902,143" fill="#5a5652"/>
<line x1="2915" y1="140" x2="2928" y2="123" stroke="#151515" stroke-width="2.6"/>
<line x1="2918" y1="142" x2="2934" y2="127" stroke="#151515" stroke-width="2.6"/>
<line x1="2903" y1="195" x2="2885" y2="229" stroke="#151515" stroke-width="2.6"/>
<line x1="2906" y1="197" x2="2892" y2="232" stroke="#151515" stroke-width="2.6"/>
<line x1="2931" y1="170" x2="2949" y2="186" stroke="#151515" stroke-width="2.6"/>
<line x1="2894" y1="158" x2="2880" y2="140" stroke="#151515" stroke-width="2.6"/>
</svg>
</body></html>
